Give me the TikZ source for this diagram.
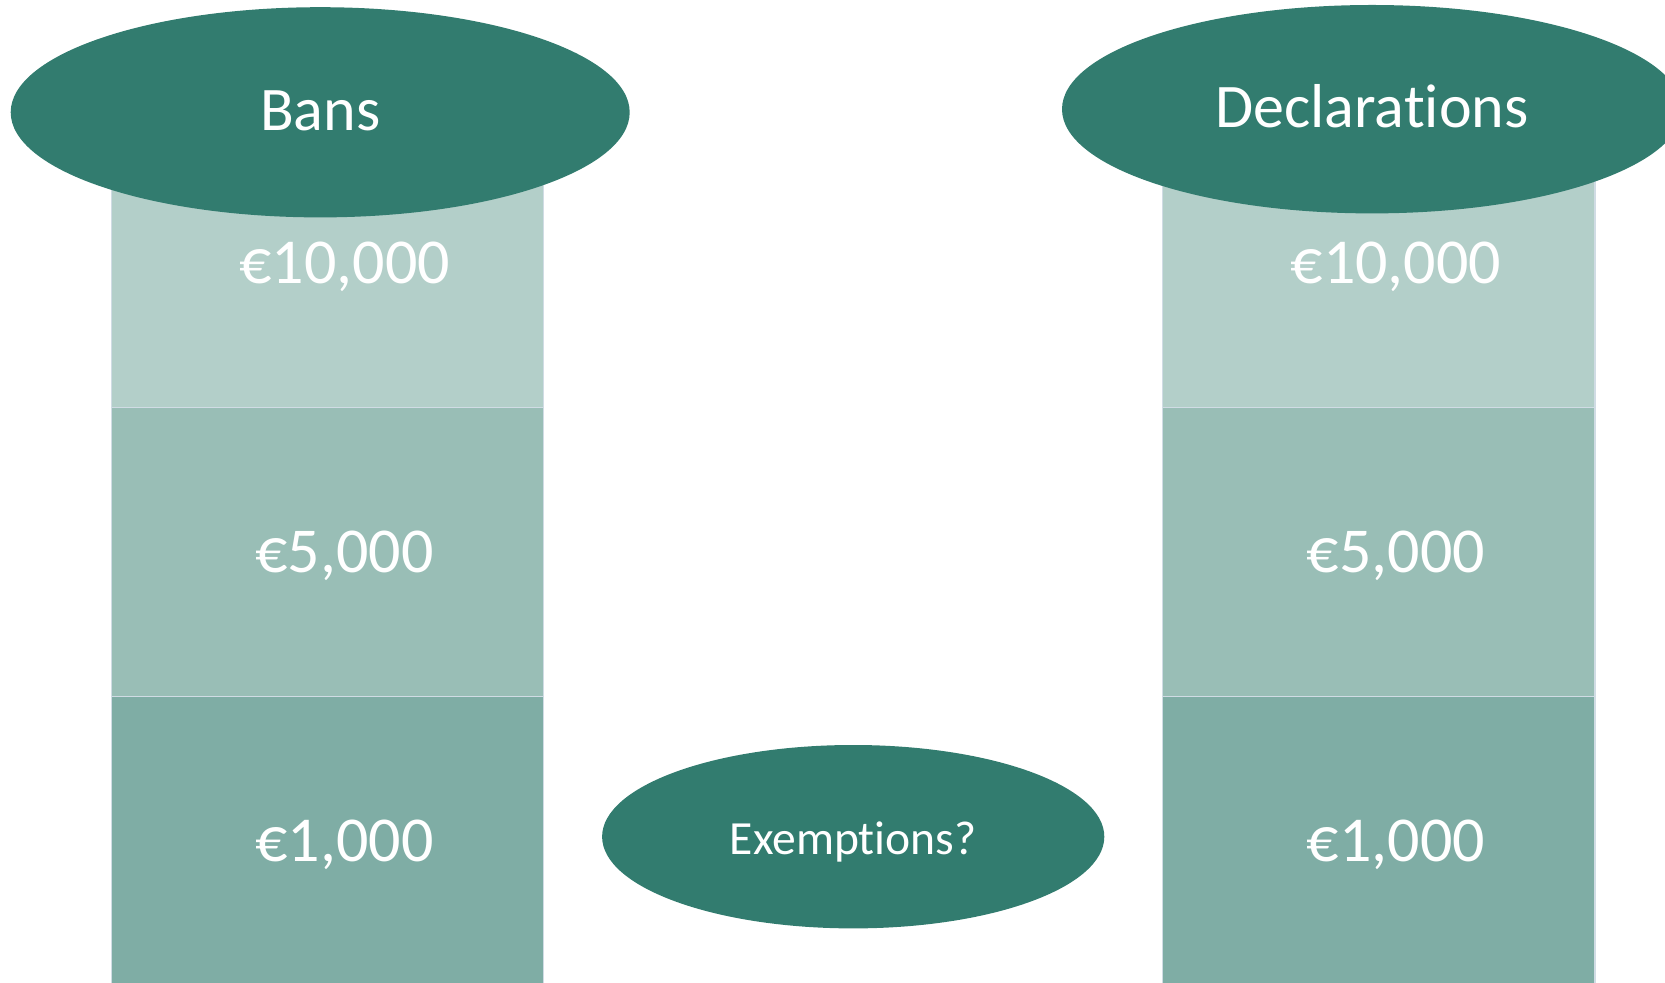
\documentclass[tikz,border=0pt]{standalone}
\usepackage{fontspec}
\setmainfont{Carlito}[Ligatures={NoCommon,NoContextual}]
\usetikzlibrary{shapes.geometric}
\definecolor{tealdark}{RGB}{50,124,111}
\definecolor{tierA}{RGB}{179,207,201}
\definecolor{tierB}{RGB}{153,190,182}
\definecolor{tierC}{RGB}{127,173,165}
\definecolor{tieredge}{RGB}{208,220,228}
\begin{document}
\begin{tikzpicture}[x=0.5pt,y=-0.5pt,
  tier/.style={rectangle, draw=tieredge, line width=0.6pt, inner sep=0pt,
    minimum width=216.1pt, minimum height=144.4pt},
  headoval/.style={ellipse, fill=tealdark, inner sep=0pt},
  amount/.style={text=white, inner sep=0pt, anchor=base,
    font=\fontsize{32}{38}\selectfont},
  headtext/.style={text=white, inner sep=0pt, anchor=base,
    font=\fontsize{31}{37}\selectfont},
  smalltext/.style={text=white, inner sep=0pt, anchor=base,
    font=\fontsize{23.8}{28}\selectfont}]
\useasboundingbox (0,0) rectangle (1665,983);
\clip (0,0) rectangle (1665,983);

% left column of thresholds
\node[tier, fill=tierA] (l1) at (327.6,263.3) {};
\node[tier, fill=tierB] (l2) at (327.6,552.2) {};
\node[tier, fill=tierC] (l3) at (327.6,841.0) {};
% right column of thresholds
\node[tier, fill=tierA] (r1) at (1378.9,263.3) {};
\node[tier, fill=tierB] (r2) at (1378.9,552.2) {};
\node[tier, fill=tierC] (r3) at (1378.9,841.0) {};

\node[amount] (l1t) at ([xshift=8.5pt,yshift=-10pt]l1.center) {€10,000};
\node[amount] (l2t) at ([xshift=8.5pt,yshift=-10pt]l2.center) {€5,000};
\node[amount] (l3t) at ([xshift=8.5pt,yshift=-10pt]l3.center) {€1,000};
\node[amount] (r1t) at ([xshift=8.5pt,yshift=-10pt]r1.center) {€10,000};
\node[amount] (r2t) at ([xshift=8.5pt,yshift=-10pt]r2.center) {€5,000};
\node[amount] (r3t) at ([xshift=8.5pt,yshift=-10pt]r3.center) {€1,000};

% heading ellipses
\node[headoval, minimum width=309.5pt, minimum height=105.1pt] (bans) at (320.2,112.3) {};
\node[headtext] (banst) at ([yshift=-9.2pt]bans.center) {Bans};
\node[headoval, minimum width=310pt, minimum height=104.2pt] (decl) at (1372,109.2) {};
\node[headtext] (declt) at ([yshift=-9pt]decl.center) {Declarations};
\node[headoval, minimum width=251.1pt, minimum height=91.7pt] (exem) at (853.2,836.7) {};
\node[smalltext] (exemt) at ([yshift=-8.7pt]exem.center) {Exemptions?};
\end{tikzpicture}
\end{document}
